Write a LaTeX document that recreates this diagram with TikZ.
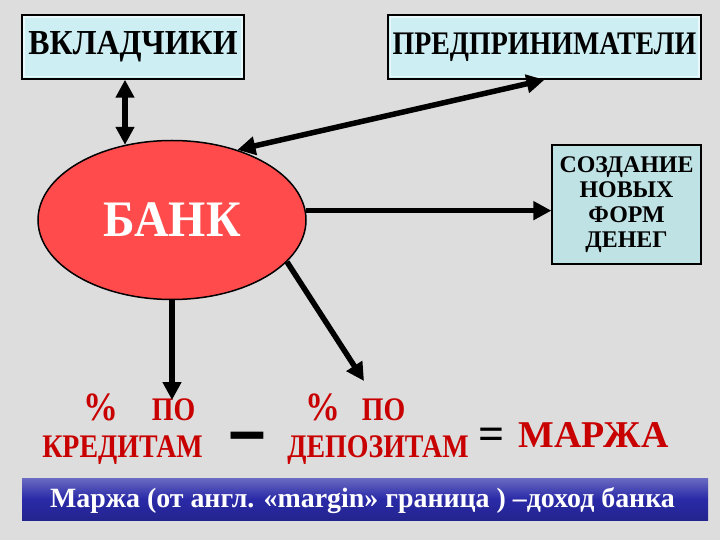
\documentclass[tikz,border=0pt]{standalone}
\usepackage{fontspec}
\usepackage{graphicx}
\setmainfont{Liberation Serif}
\usetikzlibrary{shapes.geometric,arrows.meta}
\definecolor{bgc}{HTML}{DDDDDD}
\definecolor{boxc}{HTML}{CDEFF3}
\definecolor{box2c}{HTML}{BFE2E5}
\definecolor{bankc}{HTML}{FF4B4B}
\definecolor{redt}{HTML}{C80000}
\definecolor{barc}{HTML}{2A2AA8}
\newcommand{\tallt}[2][1.18]{\scalebox{1}[#1]{#2}}
\tikzset{
  fs/.style={font=\fontsize{#1}{#1}\selectfont\bfseries},
  topbox/.style={draw=black, line width=1.5bp, fill=boxc, inner sep=0pt},
  conn/.style={line width=5.5bp, -{Triangle[length=18bp,width=18bp]}},
  dconn/.style={line width=5.5bp, {Triangle[length=18bp,width=18bp]}-{Triangle[length=18bp,width=18bp]}},
  redlbl/.style={text=redt, anchor=base, inner sep=0pt},
  blklbl/.style={text=black, anchor=base, inner sep=0pt},
}
\begin{document}
\begin{tikzpicture}[x=1bp,y=-1bp]
\useasboundingbox (0,0) rectangle (720,540);
\fill[bgc] (0,0) rectangle (720,540);

\node[topbox, minimum width=222bp, minimum height=64bp, fs=32] (vkl) at (133,47) {\tallt[1.1]{ВКЛАДЧИКИ}};
\node[topbox, minimum width=313bp, minimum height=64bp, fs=28] (pred) at (544.5,47) {\tallt{ПРЕДПРИНИМАТЕЛИ}};
\draw[white!55!boxc, line width=1.5bp] ([shift={(3bp,3bp)}]vkl.south west) rectangle ([shift={(-3bp,-3bp)}]vkl.north east);
\draw[white!55!boxc, line width=1.5bp] ([shift={(3bp,3bp)}]pred.south west) rectangle ([shift={(-3bp,-3bp)}]pred.north east);
\node[draw=black, line width=1.5bp, fill=bankc, ellipse, minimum width=268bp, minimum height=159bp, inner sep=0pt, text=white, fs=48] (bank) at (172,220) {\tallt[1.07]{БАНК}};
\node[draw=black, line width=1.2bp, fill=box2c, minimum width=149bp, minimum height=119bp, inner sep=0pt, align=center, font=\fontsize{24}{25.3}\selectfont\bfseries] (soz) at (626.5,204.5) {СОЗДАНИЕ\\НОВЫХ\\ФОРМ\\ДЕНЕГ};

\node[redlbl, fs=35] (pc1) at (100.5,420) {\tallt[1.15]{\%}};
\node[redlbl, fs=28] (po1) at (173.5,420) {\tallt{ПО}};
\node[redlbl, fs=28] (kred) at (122.5,457) {\tallt{КРЕДИТАМ}};
\node[blklbl, fs=64] (minus) at (247.5,459) {\tallt[1.6]{–}};
\node[redlbl, fs=35] (pc2) at (322.5,420) {\tallt[1.15]{\%}};
\node[redlbl, fs=28] (po2) at (383.5,420) {\tallt{ПО}};
\node[redlbl, fs=28] (depo) at (378,457) {\tallt{ДЕПОЗИТАМ}};
\node[blklbl, fs=46] (eq) at (491.5,449) {=};
\node[redlbl, fs=38] (marzha) at (593.5,447) {МАРЖА};

\shade[top color=barc!70!white, bottom color=barc!85!black, middle color=barc] (22,478) rectangle (708,520);
\node[anchor=base, inner sep=0pt, text=white, fs=28] (def) at (362.5,507) {Маржа (от англ. «margin» граница ) –доход банка};

\coordinate (t1) at (171,400);
\coordinate (t2) at (364,381);
\draw[dconn] ([xshift=-8bp]vkl.south) -- ([xshift=-8bp]vkl.south |- bank.122);
\draw[dconn] (bank.47) -- (pred.south);
\draw[conn] (bank.4) -- (bank.4 -| soz.west);
\draw[conn] (bank.south) -- (bank.south |- t1);
\draw[conn] (bank.-20) -- (t2);
\end{tikzpicture}
\end{document}
